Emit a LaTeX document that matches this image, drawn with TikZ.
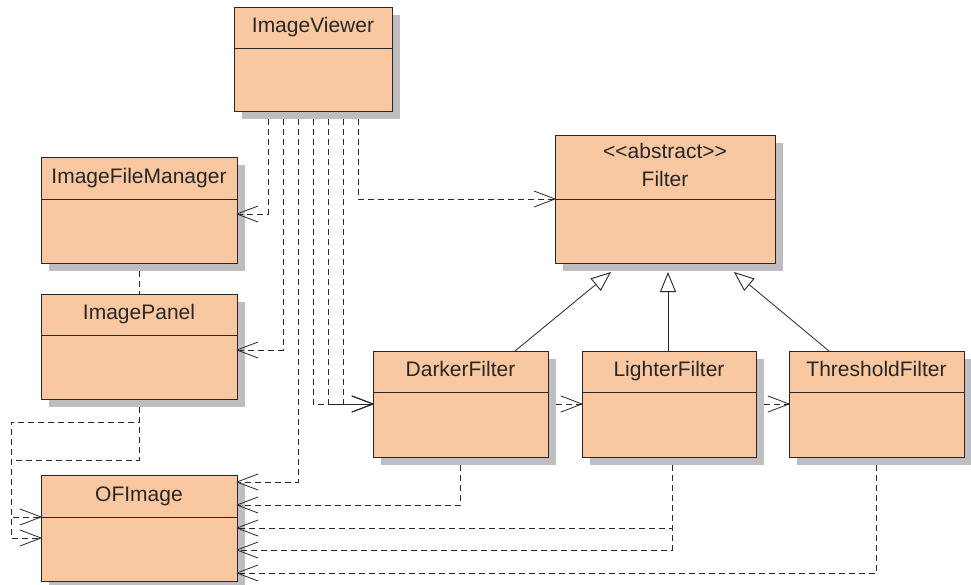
\documentclass[tikz,border=0pt]{standalone}
\usepackage{fontspec}
\setmainfont{Liberation Sans}
\usetikzlibrary{arrows.meta,calc}
\definecolor{boxfill}{RGB}{250,200,160}
\definecolor{shadowc}{RGB}{190,190,192}
\definecolor{linec}{RGB}{40,38,38}
\pgfdeclarelayer{bg}
\pgfsetlayers{bg,main}
\pgfdeclarearrow{
  name = OpenV,
  parameters = {\the\pgfarrowlength,\the\pgfarrowwidth},
  setup code = {
    \pgfarrowssettipend{0pt}
    \pgfarrowssetlineend{-0.5pt}
    \pgfarrowssetvisualbackend{-\pgfarrowlength}
    \pgfarrowssetbackend{-\pgfarrowlength}
    \pgfarrowshullpoint{0pt}{0pt}
    \pgfarrowsupperhullpoint{-\pgfarrowlength}{.5\pgfarrowwidth}
    \pgfarrowssavethe\pgfarrowlength
    \pgfarrowssavethe\pgfarrowwidth
  },
  drawing code = {
    \pgfsetdash{}{0pt}
    \pgfsetroundjoin
    \pgfsetroundcap
    \pgfpathmoveto{\pgfqpoint{-\pgfarrowlength}{.5\pgfarrowwidth}}
    \pgfpathlineto{\pgfqpoint{0pt}{0pt}}
    \pgfpathlineto{\pgfqpoint{-\pgfarrowlength}{-.5\pgfarrowwidth}}
    \pgfusepathqstroke
  },
  defaults = {length=21pt, width=16pt}
}
\tikzset{
  classbox/.style={draw=linec, fill=boxfill, line width=1pt, inner sep=0pt, outer sep=0pt, anchor=north west},
  classtext/.style={font=\fontsize{21}{28}\selectfont, text=linec, align=center, inner sep=0pt},
  oneline/.style={text height=15pt, text depth=5pt},
  dep/.style={draw=linec, line width=0.8pt, dash pattern=on 6pt off 4pt, -{OpenV}},
  link/.style={draw=linec, line width=0.8pt, dash pattern=on 6pt off 4pt},
  inh/.style={draw=linec, line width=0.8pt, -{Triangle[open,length=20pt,width=16pt,fill=white,line width=0.9pt]}}
}
% name, x, y, width, height, header height
\newcommand\umlclass[6]{%
  \begin{pgfonlayer}{bg}
    \fill[shadowc] ({#2+8},{#3+8}) rectangle ({#2+#4+8},{#3+#5+8});
  \end{pgfonlayer}
  \node[classbox, minimum width=#4pt, minimum height=#5pt] (#1) at (#2,#3) {};
  \draw[draw=linec, line width=1pt] (#2,{#3+#6}) -- ({#2+#4},{#3+#6});
  \coordinate (#1-hc) at ({#2+#4/2},{#3+#6/2});
}
\begin{document}
\begin{tikzpicture}[x=1pt,y=-1pt]
\useasboundingbox (0,0) rectangle (971,584);
\umlclass{iv}{234}{7}{158}{104}{41}
\umlclass{ifm}{41}{157}{196}{106}{42}
\umlclass{ip}{41}{294}{196}{105}{41}
\umlclass{ofi}{41}{475}{196}{106}{42}
\umlclass{flt}{555}{135}{220}{128}{64}
\umlclass{dk}{373}{351}{175}{106}{41}
\umlclass{lt}{582}{351}{174}{106}{41}
\umlclass{th}{789}{351}{175}{106}{41}

\node[classtext, oneline] (iv-name) at (iv-hc) {ImageViewer};
\node[classtext, oneline] (ifm-name) at (ifm-hc) {ImageFileManager};
\node[classtext, oneline] (ip-name) at (ip-hc) {ImagePanel};
\node[classtext, oneline] (ofi-name) at (ofi-hc) {OFImage};
\node[classtext, oneline] (dk-name) at (dk-hc) {DarkerFilter};
\node[classtext, oneline] (lt-name) at (lt-hc) {LighterFilter};
\node[classtext, oneline] (th-name) at (th-hc) {ThresholdFilter};
\node[classtext, oneline] (flt-st) at ($(flt-hc)+(0,-14)$) {<{}<abstract>{}>};
\node[classtext, oneline] (flt-name) at ($(flt-hc)+(0,14)$) {Filter};

% ImageViewer dependencies
\draw[dep] ($(iv.south)+(-45,8)$) |- ([yshift=-4pt]ifm.east);
\draw[dep] ($(iv.south)+(-30,8)$) |- ([yshift=-3.5pt]ip.east);
\draw[dep] ($(iv.south)+(-15,8)$) |- ([yshift=-7pt]ofi.north east);
\draw[dep] ($(iv.south)+(0,8)$) |- (dk.west);
\draw[dep] ($(iv.south)+(15,8)$) |- (dk.west);
\draw[dep] ($(iv.south)+(30,8)$) |- (dk.west);
\draw[dep] ($(iv.south)+(45,8)$) |- (flt.west);

% ImageFileManager - ImagePanel
\draw[link] ($(ifm.south)+(0,8)$) -- (ip.north);

% ImagePanel -> OFImage
\coordinate (ipb) at ($(ip.south)+(0,8)$);
\coordinate (lx) at (11,0);
\draw[dep] (ipb) -- ($(ip.south)+(0,61)$) -| ($(lx)+(0,517)$) -- ([yshift=-42pt]ofi.north west);
\draw[dep] (ipb) -- ($(ip.south)+(0,23)$) -| ($(lx)+(0,538)$) -- ([yshift=-63pt]ofi.north west);

% filters -> OFImage
\draw[dep] ($(dk.south)+(0,8)$) |- ([yshift=-30pt]ofi.north east);
\draw[dep] ($(lt.south)+(3,8)$) |- ([yshift=-53pt]ofi.north east);
\draw[dep] ($(lt.south)+(3,8)$) |- ([yshift=-75pt]ofi.north east);
\draw[dep] ($(th.south)+(0,8)$) |- ([yshift=-98pt]ofi.north east);

% filter chain
\draw[dep] ([xshift=8pt]dk.east) -- (lt.west);
\draw[dep] ([xshift=8pt]lt.east) -- (th.west);

% inheritance
\draw[inh] ($(dk.north)+(54.5,0)$) -- ($(flt.south)+(-54,9)$);
\draw[inh] ($(lt.north)+(-1,0)$) -- ($(flt.south)+(3,9)$);
\draw[inh] ($(th.north)+(-47.5,0)$) -- ($(flt.south)+(69,9)$);
\end{tikzpicture}
\end{document}
